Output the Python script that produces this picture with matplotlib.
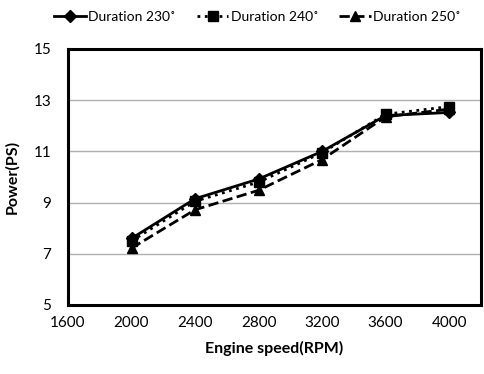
import matplotlib
matplotlib.use("Agg")
import matplotlib.pyplot as plt

plt.rcParams['font.family'] = ['Lato', 'DejaVu Sans']

rpm = [2000, 2400, 2800, 3200, 3600, 4000]
dur230 = [7.6, 9.15, 9.92, 11.0, 12.4, 12.52]
dur240 = [7.5, 9.05, 9.8, 10.95, 12.45, 12.75]
dur250 = [7.22, 8.72, 9.48, 10.68, 12.35, 12.65]
labels = ["Duration 230˚", "Duration 240˚", "Duration 250˚"]
xticks = [1600, 2000, 2400, 2800, 3200, 3600, 4000]
yticks = [5, 7, 9, 11, 13, 15]

fig = plt.figure(figsize=(4.84, 3.74), dpi=100)
ax = fig.add_axes([0.1405, 0.1845, 0.853, 0.6845])

ax.plot(rpm, dur230, color='black', linestyle='-', linewidth=2, marker='D', markersize=6, label=labels[0])
ax.plot(rpm, dur240, color='black', linestyle=':', linewidth=2, marker='s', markersize=6.5, label=labels[1])
ax.plot(rpm, dur250, color='black', linestyle='--', linewidth=2, marker='^', markersize=7.5, label=labels[2])

ax.set_xlim(1600, 4200)
ax.set_ylim(5, 15)
ax.set_xticks(xticks)
ax.set_yticks(yticks)
ax.tick_params(length=0, labelsize=11)
ax.tick_params(axis='x', pad=8)
ax.tick_params(axis='y', pad=12)
ax.yaxis.grid(True, color='#b0b0b0', linewidth=1)
ax.set_axisbelow(True)
for s in ax.spines.values():
    s.set_linewidth(2.2)
    s.set_color('black')

ax.set_xlabel("Engine speed(RPM)", fontsize=11.5, fontweight='bold', labelpad=8)
ax.set_ylabel("Power(PS)", fontsize=11.5, fontweight='bold', labelpad=10)

fig.legend(loc='center', bbox_to_anchor=(0.532, 0.954), ncol=3, frameon=False,
           fontsize=10, handlelength=2.3, handletextpad=0.15, columnspacing=1.5)

fig.savefig("out.png", dpi=100)
